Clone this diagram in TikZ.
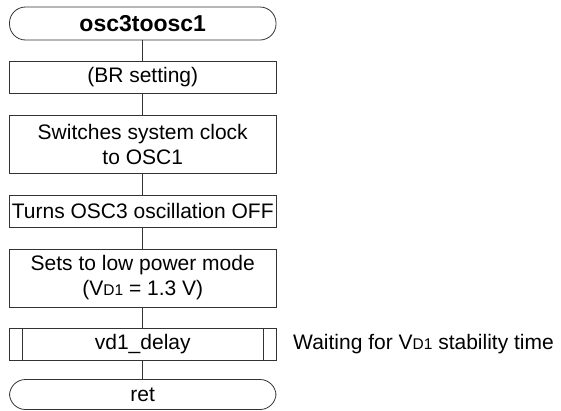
\documentclass[tikz,border=0pt]{standalone}
\usepackage{fontspec}
\setmainfont{Liberation Sans}
\newcommand{\lowsub}[1]{{\fontsize{15.5}{15.5}\selectfont #1}}
\begin{document}
\begin{tikzpicture}[x=1pt,y=1pt,
  every node/.style={font=\fontsize{21}{25}\selectfont},
  box/.style={draw=black!80, line width=0.8pt, minimum width=266.5pt, inner sep=0pt, align=center},
  term/.style={box, rounded corners=16pt},
  link/.style={draw=black!80, line width=0.8pt}]
\useasboundingbox (0,0) rectangle (561,-410);
\node[term, minimum height=33pt, font=\fontsize{23}{25}\selectfont\bfseries] (start) at (142.75,-23.5) {osc3toosc1};
\node[box, minimum height=32pt] (br) at (142.75,-77) {(BR setting)};
\node[box, minimum height=58pt] (sw) at (142.75,-144) {Switches system clock\\to OSC1};
\node[box, minimum height=32pt] (off) at (142.75,-211) {Turns OSC3 oscillation OFF};
\node[box, minimum height=58pt] (low) at (142.75,-278) {Sets to low power mode\\(V\lowsub{D1} = 1.3 V)};
\node[box, minimum height=32pt] (vd) at (142.75,-344) {vd1\_delay};
\node[term, minimum height=30pt] (ret) at (142.75,-394.5) {ret};
\node[anchor=west, inner sep=0pt] (note) at (293,-344) {Waiting for V\lowsub{D1} stability time};
\draw[link] ([xshift=13.3pt]vd.north west) -- ([xshift=13.3pt]vd.south west);
\draw[link] ([xshift=-13.3pt]vd.north east) -- ([xshift=-13.3pt]vd.south east);
\draw[link] (start) -- (br);
\draw[link] (br) -- (sw);
\draw[link] (sw) -- (off);
\draw[link] (off) -- (low);
\draw[link] (low) -- (vd);
\draw[link] (vd) -- (ret);
\end{tikzpicture}
\end{document}
